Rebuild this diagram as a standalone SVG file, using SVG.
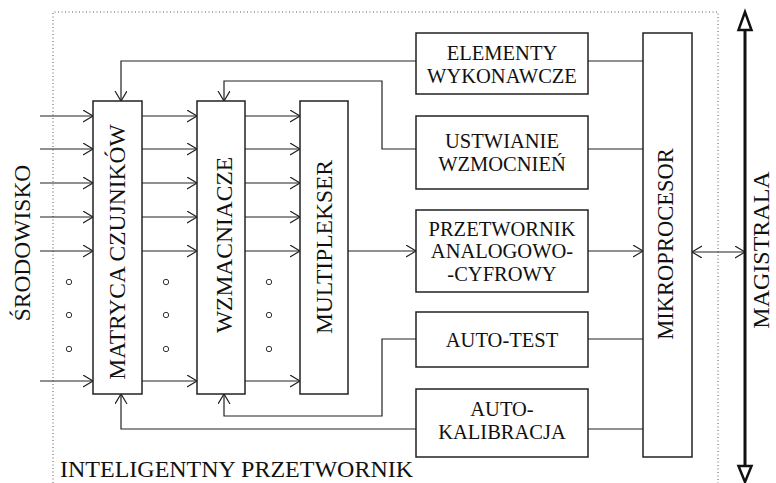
<svg xmlns="http://www.w3.org/2000/svg" width="776" height="483" viewBox="0 0 776 483">
<defs>
<marker id="arr" markerUnits="userSpaceOnUse" markerWidth="12" markerHeight="14" refX="10" refY="6" orient="auto-start-reverse">
<path d="M0,0 L10,6 L0,12" fill="none" stroke="#222" stroke-width="1.2"/>
</marker>
</defs>
<style>
.box{fill:#fff;stroke:#222;stroke-width:1.5}
.ln{fill:none;stroke:#222;stroke-width:1.2}
.ar{fill:none;stroke:#222;stroke-width:1.2;marker-end:url(#arr)}
.t{font-family:"Liberation Serif","Times New Roman",serif;fill:#111;text-anchor:middle}
.bt{font-size:20.5px}
.rt{font-size:23.5px}
.dot{fill:none;stroke:#333;stroke-width:1}
</style>
<rect width="776" height="483" fill="#fff"/>
<path d="M53,483 V12 H718 V483" fill="none" stroke="#555" stroke-width="1" stroke-dasharray="1,2.5"/>

<g id="connectors">
<path class="ar" d="M40,116 H93"/><path class="ar" d="M40,149 H93"/><path class="ar" d="M40,183 H93"/><path class="ar" d="M40,217 H93"/><path class="ar" d="M40,251 H93"/><path class="ar" d="M40,381 H93"/>
<path class="ar" d="M142,116 H197"/><path class="ar" d="M142,149 H197"/><path class="ar" d="M142,183 H197"/><path class="ar" d="M142,217 H197"/><path class="ar" d="M142,251 H197"/><path class="ar" d="M142,381 H197"/>
<path class="ar" d="M245,116 H300"/><path class="ar" d="M245,149 H300"/><path class="ar" d="M245,183 H300"/><path class="ar" d="M245,217 H300"/><path class="ar" d="M245,251 H300"/><path class="ar" d="M245,381 H300"/>
<path class="ar" d="M348,251 H416"/>
<path class="ar" d="M416,61 H121 V101"/>
<path class="ar" d="M416,149 H382 V81 H224 V101"/>
<path class="ar" d="M416,339 H382 V416 H224 V394"/>
<path class="ar" d="M416,429 H121 V394"/>
<path class="ln" d="M588,61 H643"/>
<path class="ln" d="M588,149 H643"/>
<path class="ar" d="M588,251 H643"/>
<path class="ln" d="M588,339 H643"/>
<path class="ln" d="M588,429 H643"/>
<path class="ar" d="M692,252 H745" style="marker-start:url(#arr)"/>
<path d="M745,30 V466" stroke="#111" stroke-width="3" fill="none"/>
<polygon points="745,12 738.5,30 751.5,30" fill="#fff" stroke="#111" stroke-width="2.5"/>
<polygon points="745,482 738.5,466 751.5,466" fill="#fff" stroke="#111" stroke-width="2.5"/>
</g>

<g id="dots">
<circle class="dot" cx="69" cy="282" r="2.7"/><circle class="dot" cx="69" cy="315" r="2.7"/><circle class="dot" cx="69" cy="349" r="2.7"/>
<circle class="dot" cx="166" cy="282" r="2.7"/><circle class="dot" cx="166" cy="315" r="2.7"/><circle class="dot" cx="166" cy="349" r="2.7"/>
<circle class="dot" cx="269" cy="282" r="2.7"/><circle class="dot" cx="269" cy="315" r="2.7"/><circle class="dot" cx="269" cy="349" r="2.7"/>
</g>

<g id="srodowisko"><text class="t rt" transform="translate(30,243) rotate(-90)">ŚRODOWISKO</text></g>

<g id="matryca">
<rect class="box" x="93" y="101" width="49" height="293"/>
<text class="t rt" transform="translate(125,252) rotate(-90)">MATRYCA CZUJNIKÓW</text>
</g>
<g id="wzmacniacze">
<rect class="box" x="197" y="101" width="48" height="293"/>
<text class="t rt" transform="translate(232,245) rotate(-90)">WZMACNIACZE</text>
</g>
<g id="multiplekser">
<rect class="box" x="300" y="101" width="48" height="293"/>
<text class="t rt" transform="translate(332,247) rotate(-90)">MULTIPLEKSER</text>
</g>

<g id="elementy">
<rect class="box" x="416" y="33" width="172" height="61"/>
<text class="t bt" x="502" y="60">ELEMENTY</text>
<text class="t bt" x="502" y="83">WYKONAWCZE</text>
</g>
<g id="ustwianie">
<rect class="box" x="416" y="116" width="172" height="73"/>
<text class="t bt" x="502" y="148">USTWIANIE</text>
<text class="t bt" x="502" y="171">WZMOCNIEŃ</text>
</g>
<g id="przetwornik">
<rect class="box" x="416" y="210" width="172" height="82"/>
<text class="t bt" x="502" y="236">PRZETWORNIK</text>
<text class="t bt" x="502" y="258">ANALOGOWO-</text>
<text class="t bt" x="502" y="281">-CYFROWY</text>
</g>
<g id="autotest">
<rect class="box" x="416" y="312" width="172" height="55"/>
<text class="t bt" x="502" y="347">AUTO-TEST</text>
</g>
<g id="autokalibracja">
<rect class="box" x="416" y="389" width="172" height="68"/>
<text class="t bt" x="502" y="416">AUTO-</text>
<text class="t bt" x="502" y="439">KALIBRACJA</text>
</g>

<g id="mikroprocesor">
<rect class="box" x="643" y="33" width="49" height="424"/>
<text class="t" style="font-size:22.5px" transform="translate(673,244) rotate(-90)">MIKROPROCESOR</text>
</g>

<g id="magistrala"><text class="t" style="font-size:24px" transform="translate(769,250) rotate(-90)">MAGISTRALA</text></g>

<g id="label"><text class="t" style="font-size:24px;text-anchor:start" x="60" y="477">INTELIGENTNY PRZETWORNIK</text></g>
</svg>
